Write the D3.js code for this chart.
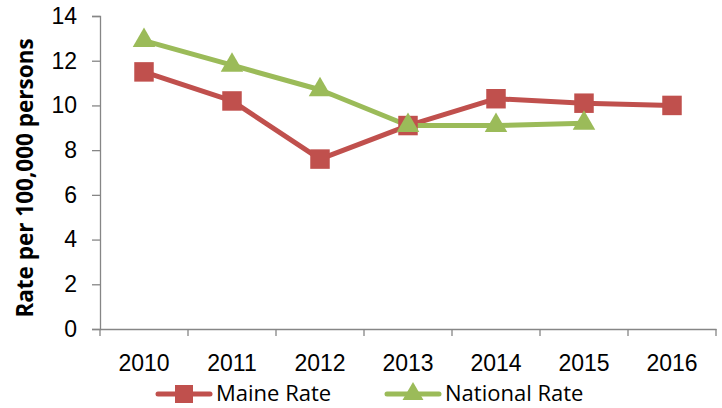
<!DOCTYPE html>
<html>
<head>
<meta charset="utf-8">
<script src="https://cdn.jsdelivr.net/npm/d3@7"></script>
<style>
  body { margin: 0; background: #fff; }
  svg { display: block; font-family: "Open Sans", "Noto Sans", sans-serif; }
</style>
</head>
<body>
<div id="chart"></div>
<script>
var years = ["2010", "2011", "2012", "2013", "2014", "2015", "2016"];
var maineRate = [11.5, 10.2, 7.6, 9.1, 10.3, 10.1, 10.0];
var nationalRate = [12.9, 11.8, 10.7, 9.1, 9.1, 9.2, null];
var yTicks = [0, 2, 4, 6, 8, 10, 12, 14];

var chart = {
    width: 722,
    height: 408,
    left: 100,
    right: 716,
    top: 16,
    bottom: 329
};

var svg = d3.select("#chart")
    .append("svg")
    .attr("width", chart.width)
    .attr("height", chart.height);

var x = d3.scaleBand()
    .domain(years)
    .range([chart.left, chart.right]);

var y = d3.scaleLinear()
    .domain([0, 14])
    .range([chart.bottom, chart.top]);

var axisColor = "#868686";

// y axis
var yAxis = svg.append("g")
    .attr("transform", "translate(" + chart.left + ",0)")
    .call(d3.axisLeft(y).tickValues(yTicks).tickSize(8).tickPadding(15));
yAxis.selectAll("text").style("font-size", "23px").attr("fill", "#000");

// x axis
var xAxis = svg.append("g")
    .attr("transform", "translate(0," + chart.bottom + ")")
    .call(d3.axisBottom(x).tickSize(0).tickPadding(26));
xAxis.selectAll("text").style("font-size", "23px").attr("fill", "#000");
// category boundary ticks
xAxis.selectAll(".bound")
    .data(d3.range(years.length + 1))
    .enter()
    .append("line")
    .attr("class", "bound")
    .attr("x1", function (i) { return chart.left + i * x.step(); })
    .attr("x2", function (i) { return chart.left + i * x.step(); })
    .attr("y1", 0)
    .attr("y2", 7)
    .attr("stroke", axisColor);

svg.selectAll(".domain, .tick line").attr("stroke", axisColor).attr("stroke-width", 1.3);
svg.selectAll(".bound").attr("stroke-width", 1.3);

// y label
svg.append("text")
    .attr("transform", "translate(25,178) rotate(-90)")
    .attr("text-anchor", "middle")
    .attr("dy", "0.35em")
    .style("font-size", "22.5px")
    .style("font-weight", "bold")
    .text("Rate per 100,000 persons");

function cx(i) { return x(years[i]) + x.bandwidth() / 2; }

var line = d3.line()
    .defined(function (d) { return d != null; })
    .x(function (d, i) { return cx(i); })
    .y(function (d) { return y(d); });

var red = "#C0504D";
var green = "#9BBB59";

svg.append("path")
    .datum(maineRate)
    .attr("d", line)
    .attr("fill", "none")
    .attr("stroke", red)
    .attr("stroke-width", 5)
    .attr("stroke-linejoin", "round");

svg.append("path")
    .datum(nationalRate)
    .attr("d", line)
    .attr("fill", "none")
    .attr("stroke", green)
    .attr("stroke-width", 5)
    .attr("stroke-linejoin", "round");

var square = d3.symbol().type(d3.symbolSquare).size(380);
var triangle = d3.symbol().type(d3.symbolTriangle).size(220);

svg.selectAll(".sq")
    .data(maineRate)
    .enter()
    .append("path")
    .attr("class", "sq")
    .attr("d", square)
    .attr("transform", function (d, i) { return "translate(" + cx(i) + "," + y(d) + ")"; })
    .attr("fill", red);

svg.selectAll(".tri")
    .data(nationalRate.filter(function (d) { return d != null; }))
    .enter()
    .append("path")
    .attr("class", "tri")
    .attr("d", triangle)
    .attr("transform", function (d, i) { return "translate(" + cx(i) + "," + y(d) + ")"; })
    .attr("fill", green);

// legend
var legend = [
    { name: "Maine Rate", color: red, shape: d3.symbol().type(d3.symbolSquare).size(324), x: 156 },
    { name: "National Rate", color: green, shape: d3.symbol().type(d3.symbolTriangle).size(190), x: 385 }
];
var lg = svg.selectAll(".legend")
    .data(legend)
    .enter()
    .append("g")
    .attr("class", "legend")
    .attr("transform", function (d) { return "translate(" + d.x + ",394)"; });
lg.append("line")
    .attr("x1", 2).attr("x2", 54)
    .attr("stroke", function (d) { return d.color; })
    .attr("stroke-width", 5)
    .attr("stroke-linecap", "round");
lg.append("path")
    .attr("d", function (d) { return d.shape(); })
    .attr("transform", "translate(28,0)")
    .attr("fill", function (d) { return d.color; });
lg.append("text")
    .attr("x", 60)
    .attr("dy", "0.3em")
    .style("font-size", "22px")
    .text(function (d) { return d.name; });
</script>
</body>
</html>
